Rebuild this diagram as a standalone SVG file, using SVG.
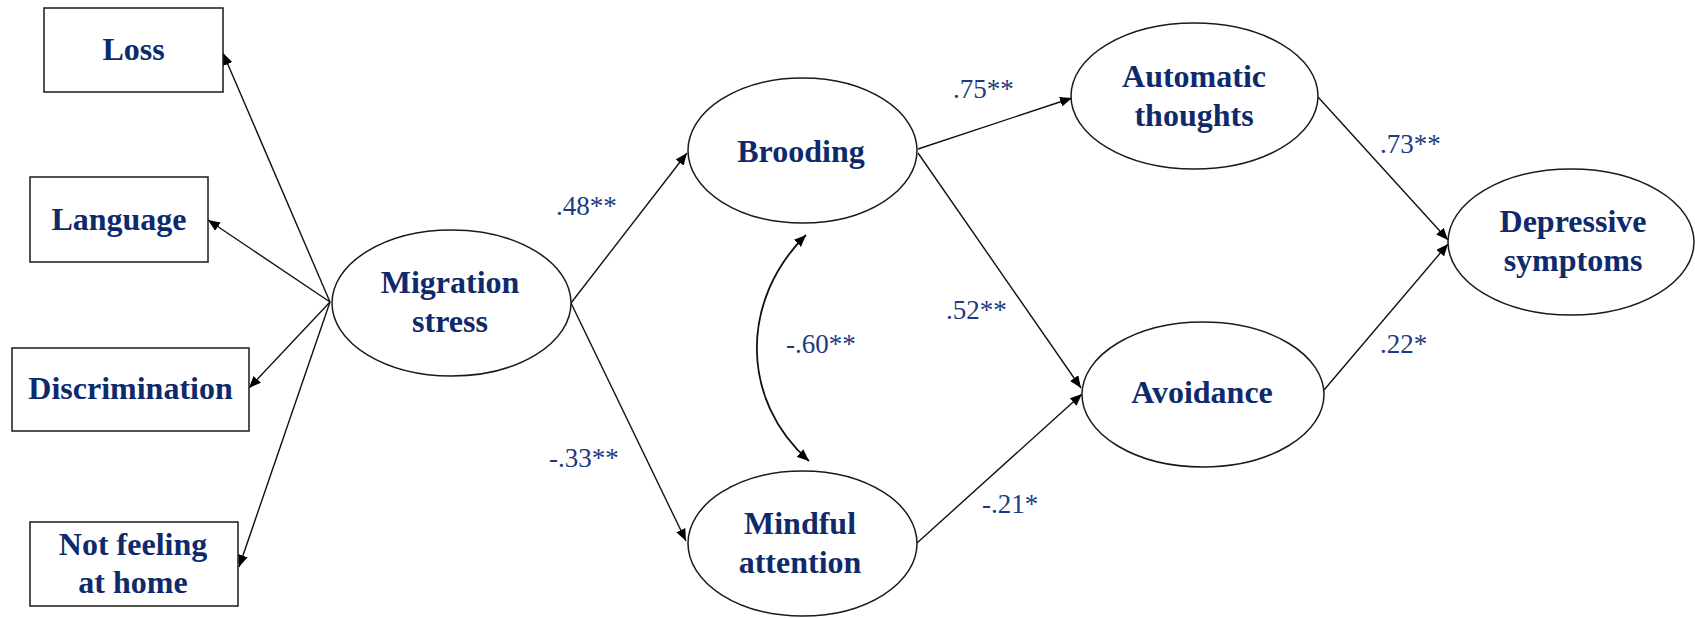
<svg xmlns="http://www.w3.org/2000/svg" width="1695" height="618" viewBox="0 0 1695 618">
  <style>
    .box { fill: #ffffff; stroke: #1a1a1a; stroke-width: 1.5; }
    .ell { fill: #ffffff; stroke: #1a1a1a; stroke-width: 1.5; }
    .lbl { font-family: "Liberation Serif", "Times New Roman", serif; font-weight: bold; font-size: 32px; fill: #0f2a6b; text-anchor: middle; }
    .coef { font-family: "Liberation Serif", "Times New Roman", serif; font-size: 27px; fill: #1d3a80; }
    .edge { fill: none; stroke: #111111; stroke-width: 1.4; marker-end: url(#arrow); }
    .corr { fill: none; stroke: #111111; stroke-width: 1.8; marker-start: url(#arrow); marker-end: url(#arrow); }
  </style>
  <defs>
    <marker id="arrow" viewBox="0 0 12 10" refX="12" refY="5" markerWidth="12" markerHeight="10" markerUnits="userSpaceOnUse" orient="auto-start-reverse">
      <path d="M0,0 L12,5 L0,10 z" fill="#000000"/>
    </marker>
  </defs>
  <rect width="1695" height="618" fill="#ffffff"/>

  <!-- connectors -->
  <g id="connectors">
    <!-- migration stress to its indicators -->
    <line class="edge" x1="330" y1="302" x2="223" y2="53"/>
    <line class="edge" x1="330" y1="302" x2="208" y2="220"/>
    <line class="edge" x1="330" y1="302" x2="249" y2="388"/>
    <line class="edge" x1="330" y1="302" x2="239" y2="567"/>
    <!-- structural paths -->
    <line class="edge" x1="571" y1="303" x2="687" y2="153"/>
    <line class="edge" x1="571" y1="303" x2="686" y2="541"/>
    <line class="edge" x1="918" y1="149" x2="1072" y2="98"/>
    <line class="edge" x1="918" y1="153" x2="1081" y2="388"/>
    <line class="edge" x1="917" y1="543" x2="1082" y2="394"/>
    <line class="edge" x1="1318" y1="97" x2="1448" y2="240"/>
    <line class="edge" x1="1324" y1="390" x2="1448" y2="244"/>
    <!-- covariance between brooding and mindful attention -->
    <path class="corr" d="M806,235 C740,300 740,400 809,461"/>
  </g>

  <!-- coefficients -->
  <g id="coefficients">
    <text class="coef" x="556" y="215">.48**</text>
    <text class="coef" x="549" y="467">-.33**</text>
    <text class="coef" x="786" y="353">-.60**</text>
    <text class="coef" x="953" y="98">.75**</text>
    <text class="coef" x="946" y="319">.52**</text>
    <text class="coef" x="982" y="513">-.21*</text>
    <text class="coef" x="1380" y="153">.73**</text>
    <text class="coef" x="1380" y="353">.22*</text>
  </g>

  <!-- indicator boxes -->
  <g id="loss">
    <rect class="box" x="44" y="8" width="179" height="84"/>
    <text class="lbl" x="133.5" y="60">Loss</text>
  </g>
  <g id="language">
    <rect class="box" x="30" y="177" width="178" height="85"/>
    <text class="lbl" x="119" y="230">Language</text>
  </g>
  <g id="discrimination">
    <rect class="box" x="12" y="348" width="237" height="83"/>
    <text class="lbl" x="130.5" y="399">Discrimination</text>
  </g>
  <g id="not-feeling-at-home">
    <rect class="box" x="30" y="522" width="208" height="84"/>
    <text class="lbl" x="133" y="555">Not feeling</text>
    <text class="lbl" x="133" y="593">at home</text>
  </g>

  <!-- latent variables -->
  <g id="migration-stress">
    <ellipse class="ell" cx="451.5" cy="303" rx="119.5" ry="73"/>
    <text class="lbl" x="450" y="293">Migration</text>
    <text class="lbl" x="450" y="332">stress</text>
  </g>
  <g id="brooding">
    <ellipse class="ell" cx="802.5" cy="150.5" rx="114.5" ry="72.5"/>
    <text class="lbl" x="801" y="162">Brooding</text>
  </g>
  <g id="mindful-attention">
    <ellipse class="ell" cx="802.5" cy="543.5" rx="114.5" ry="72.5"/>
    <text class="lbl" x="800" y="534">Mindful</text>
    <text class="lbl" x="800" y="573">attention</text>
  </g>
  <g id="automatic-thoughts">
    <ellipse class="ell" cx="1194.5" cy="96" rx="123.5" ry="73"/>
    <text class="lbl" x="1194" y="87">Automatic</text>
    <text class="lbl" x="1194" y="126">thoughts</text>
  </g>
  <g id="avoidance">
    <ellipse class="ell" cx="1203" cy="394.5" rx="121" ry="72.5"/>
    <text class="lbl" x="1202" y="403">Avoidance</text>
  </g>
  <g id="depressive-symptoms">
    <ellipse class="ell" cx="1571" cy="242" rx="123" ry="73"/>
    <text class="lbl" x="1573" y="232">Depressive</text>
    <text class="lbl" x="1573" y="271">symptoms</text>
  </g>
</svg>
